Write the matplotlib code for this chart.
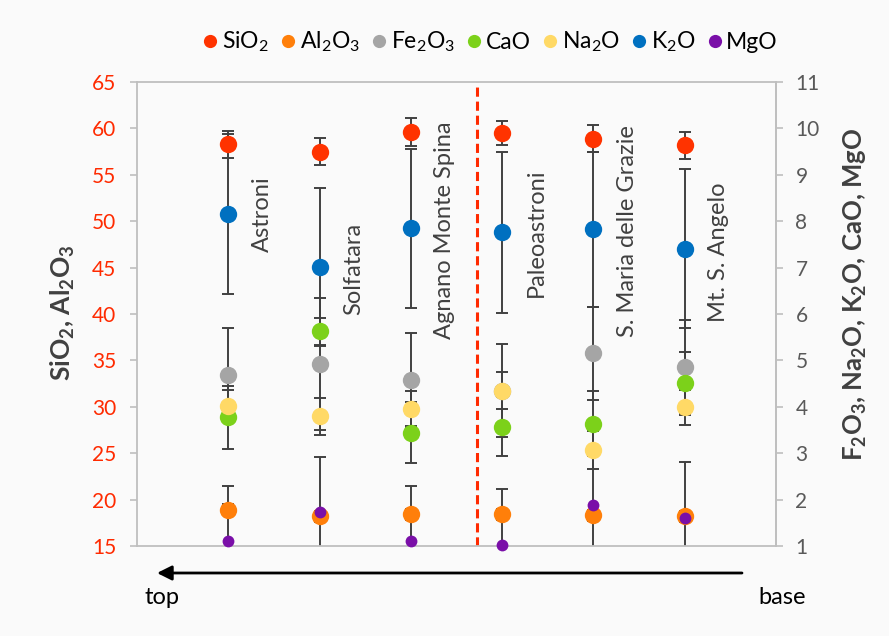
import matplotlib
matplotlib.use("Agg")
import numpy as np
import matplotlib.pyplot as plt
from matplotlib.lines import Line2D

plt.rcParams['font.family'] = 'Lato'
plt.rcParams['mathtext.fontset'] = 'custom'
plt.rcParams['mathtext.rm'] = 'Lato'
plt.rcParams['mathtext.bf'] = 'Lato:bold'

# --- data (left axis: SiO2, Al2O3; right axis: the rest) -------------------
sites = ["Astroni", "Solfatara", "Agnano Monte Spina", "Paleoastroni",
         "S. Maria delle Grazie", "Mt. S. Angelo"]

sio2 = [58.3, 57.5, 59.6, 59.5, 58.9, 58.2]
sio2_err = [1.45, 1.45, 1.5, 1.3, 1.45, 1.45]
al2o3 = [18.9, 18.2, 18.4, 18.4, 18.3, 18.2]
al2o3_err = [0.6, 0.6, 0.6, 0.6, 0.6, 0.6]

fe2o3 = [4.69, 4.92, 4.58, 4.35, 5.15, 4.86]
fe2o3_err = [1.0, 1.43, 1.0, 1.0, 1.0, 1.0]
cao = [3.77, 5.63, 3.44, 3.57, 3.63, 4.51]
cao_err = [0.68, 0.29, 0.66, 0.64, 0.7, 0.68]
na2o = [4.02, 3.80, 3.95, 4.35, 3.07, 3.99]
na2o_err = [0.35, 0.4, 0.4, 0.4, 0.4, 0.38]
k2o = [8.16, 7.01, 7.85, 7.76, 7.83, 7.41]
k2o_err = [1.72, 1.71, 1.71, 1.73, 1.67, 1.71]
mgo = [1.10, 1.74, 1.10, 1.02, 1.88, 1.60]
mgo_err = [1.2, 1.18, 1.2, 1.21, 1.2, 1.2]

# right axis (1..11) shares the plot with left axis (15..65)
def right_to_left(v):
    return 15 + (np.asarray(v) - 1) * 5

def left_to_right(y):
    return 1 + (np.asarray(y) - 15) / 5

# (label, values, errors, colour, marker size, on right axis)
series = [
    (r"SiO$_2$", sio2, sio2_err, "#FF3300", 12.5, False),
    (r"Al$_2$O$_3$", al2o3, al2o3_err, "#FF7F0A", 12.5, False),
    (r"Fe$_2$O$_3$", fe2o3, fe2o3_err, "#A5A5A5", 12.5, True),
    (r"CaO", cao, cao_err, "#7CD11A", 12.5, True),
    (r"Na$_2$O", na2o, na2o_err, "#FFD966", 12.5, True),
    (r"K$_2$O", k2o, k2o_err, "#0070C0", 12.5, True),
    (r"MgO", mgo, mgo_err, "#7A0FA8", 8.5, True),
]

fig = plt.figure(figsize=(8.89, 6.36), dpi=100, facecolor="#FAFAFA")
ax = fig.add_axes([137 / 889, 1 - 546 / 636, 639 / 889, 464 / 636])
ax.set_facecolor("#FAFAFA")

x = np.arange(1, len(sites) + 1)
ax.set_xlim(0, 7)
ax.set_ylim(15, 65)

for label, vals, errs, col, ms, right in series:
    y = right_to_left(vals) if right else np.asarray(vals)
    e = np.asarray(errs) * (5 if right else 1)
    ax.errorbar(x, y, yerr=e, fmt="none", ecolor="#404040", elinewidth=1.4,
                capsize=4.5, capthick=1.4, zorder=2, clip_on=True)
for label, vals, errs, col, ms, right in series:
    y = right_to_left(vals) if right else np.asarray(vals)
    ax.plot(x, y, "o", ms=ms, color=col, mec="none", zorder=3, clip_on=False)

# boundary between younger and older units
ax.axvline(3.72, color="#FF2A00", ls=(0, (3, 1.6)), lw=2.2, zorder=1)

# site names, rotated next to each column
label_tops = [54.8, 49.8, 60.7, 55.7, 60.4, 54.2]
for xi, name, top in zip(x, sites, label_tops):
    ax.text(xi + 0.37, top, name, rotation=90, ha="center", va="top",
            fontsize=17, color="#404040")

# axes styling
for sp in ax.spines.values():
    sp.set_color("#BFBFBF")
    sp.set_linewidth(1.3)
ax.set_xticks([])
ax.set_yticks(np.arange(15, 66, 5))
ax.tick_params(axis="y", direction="out", length=5, width=1.2, color="#BFBFBF",
               labelcolor="#FF2A00", labelsize=15, pad=10)

sec = ax.secondary_yaxis("right", functions=(left_to_right, right_to_left))
sec.set_yticks(np.arange(1, 12, 1))
sec.spines["right"].set_color("#BFBFBF")
sec.spines["right"].set_linewidth(1.3)
sec.tick_params(axis="y", direction="out", length=5, width=1.2, color="#BFBFBF",
                labelcolor="#595959", labelsize=15, pad=9)

# axis titles
fig.text(63 / 889, 1 - 313 / 636, r"SiO$_\mathbf{2}$, Al$_\mathbf{2}$O$_\mathbf{3}$",
         rotation=90, ha="center", va="center", fontsize=19, fontweight="bold",
         color="#404040")
fig.text(855 / 889, 1 - 294 / 636,
         r"F$_\mathbf{2}$O$_\mathbf{3}$, Na$_\mathbf{2}$O, K$_\mathbf{2}$O, CaO, MgO",
         rotation=90, ha="center", va="center", fontsize=18.5, fontweight="bold",
         color="#404040")

# legend on top
handles = [Line2D([], [], ls="none", marker="o", ms=9.5, color=s[3], mec="none")
           for s in series]
fig.legend(handles, [s[0] for s in series], loc="center",
           bbox_to_anchor=(0.552, 1 - 42 / 636), ncol=7, frameon=False,
           handlelength=0.6, handletextpad=0.2, columnspacing=0.55, fontsize=16.5,
           borderaxespad=0)

# stratigraphic arrow below
ax.annotate("", xy=(157 / 889, 1 - 573 / 636), xytext=(742 / 889, 1 - 573 / 636),
            xycoords="figure fraction", textcoords="figure fraction",
            arrowprops=dict(arrowstyle="-|>", color="black", lw=2,
                            mutation_scale=22, shrinkA=0, shrinkB=0))
fig.text(162 / 889, 1 - 597 / 636, "top", ha="center", va="center", fontsize=17)
fig.text(782 / 889, 1 - 597 / 636, "base", ha="center", va="center", fontsize=17)

fig.savefig("out.png", dpi=100, facecolor=fig.get_facecolor())
